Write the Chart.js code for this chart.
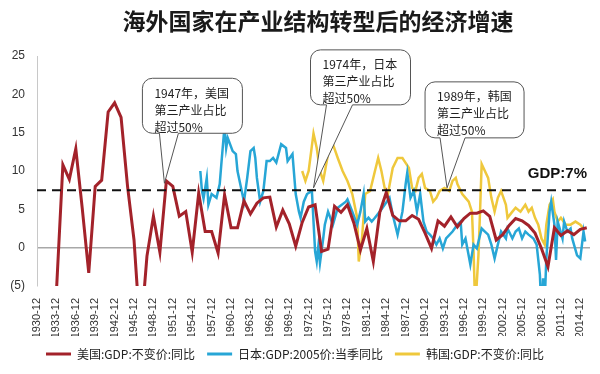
<!DOCTYPE html>
<html>
<head>
<meta charset="utf-8">
<script src="https://cdn.jsdelivr.net/npm/chart.js@4.4.1/dist/chart.umd.min.js"></script>
<style>
  html, body { margin: 0; padding: 0; background: #fff; }
  #wrap { width: 600px; height: 374px; position: relative; }
</style>
</head>
<body>
<div id="wrap"><canvas id="gdp" width="600" height="374"></canvas></div>
<script>
// Title and x tick labels
const chartTitle = "海外国家在产业结构转型后的经济增速";
const xTickLabels = ["1930-12", "1933-12", "1936-12", "1939-12", "1942-12", "1945-12", "1948-12",
  "1951-12", "1954-12", "1957-12", "1960-12", "1963-12", "1966-12", "1969-12", "1972-12",
  "1975-12", "1978-12", "1981-12", "1984-12", "1987-12", "1990-12", "1993-12", "1996-12",
  "1999-12", "2002-12", "2005-12", "2008-12", "2011-12", "2014-12"];
const seriesNames = ["美国:GDP:不变价:同比", "日本:GDP:2005价:当季同比", "韩国:GDP:不变价:同比"];
const refLevel = 7.5;
const refLabel = "GDP:7%";

// USA, annual, 1930 onwards
const usStart = 1930;
const usGrowth = [-8.5, -6.4, -12.9, -5.8, 10.8, 8.9, 12.9, 5.1, -3.3, 8.0,
  8.8, 17.7, 18.9, 17.0, 8.0, 1.0, -11.6, -1.1, 4.1, -0.6,
  8.7, 8.0, 4.1, 4.7, -0.6, 7.1, 2.1, 2.1, -0.7, 6.9,
  2.6, 2.6, 6.1, 4.4, 5.8, 6.5, 6.6, 2.7, 4.9, 3.1,
  0.2, 3.3, 5.3, 5.6, -0.5, -0.2, 5.4, 4.6, 5.6, 3.2,
  -0.3, 2.5, -1.8, 4.6, 7.2, 4.2, 3.5, 3.5, 4.2, 3.7,
  1.9, -0.1, 3.5, 2.8, 4.0, 2.7, 3.8, 4.5, 4.5, 4.8,
  4.1, 1.0, 1.7, 2.9, 3.8, 3.5, 2.9, 1.9, -0.1, -2.5,
  2.6, 1.6, 2.2, 1.7, 2.4, 2.6];

// Japan, quarterly (time in years on the same axis)
const jpTime = [1955.25, 1955.5, 1955.75, 1956.25, 1956.5, 1957.0, 1957.75, 1958.25, 1958.5, 1959.0,
  1959.25, 1959.5, 1960.25, 1960.75, 1961.0, 1961.75, 1962.0, 1962.5, 1963.0, 1963.5,
  1963.75, 1964.0, 1964.5, 1965.0, 1965.5, 1966.0, 1966.5, 1967.0, 1967.75, 1968.5,
  1968.75, 1969.5, 1970.0, 1970.5, 1970.75, 1971.25, 1971.75, 1972.5, 1973.0, 1973.25,
  1973.5, 1973.75, 1974.25, 1974.5, 1975.0, 1975.75, 1976.5, 1977.75, 1978.0, 1978.75,
  1979.5, 1980.0, 1980.5, 1980.75, 1981.25, 1981.75, 1982.25, 1983.0, 1983.75, 1984.5,
  1985.0, 1985.75, 1986.5, 1987.0, 1987.25, 1987.75, 1988.25, 1988.75, 1989.25, 1989.75,
  1990.25, 1990.75, 1991.25, 1991.75, 1992.25, 1992.75, 1993.25, 1994.25, 1995.0, 1995.5,
  1995.75, 1996.25, 1997.0, 1997.5, 1998.0, 1998.75, 1999.25, 1999.75, 2000.25, 2000.75,
  2001.25, 2001.75, 2002.5, 2002.75, 2003.5, 2004.0, 2004.5, 2005.0, 2005.5, 2006.0,
  2006.75, 2007.25, 2007.75, 2008.0, 2008.25, 2008.5, 2008.75, 2009.25, 2009.5, 2010.0,
  2010.25, 2010.5, 2011.25, 2011.5, 2012.0, 2012.5, 2012.75, 2013.5, 2014.0, 2014.5, 2014.75];
const jpGrowth = [10.0, 7.4, 6.4, 9.1, 5.6, 7.0, 6.5, 8.3, 10.9, 15.9,
  13.0, 14.3, 12.6, 12.2, 10.0, 7.0, 6.0, 9.1, 12.6, 13.0,
  11.7, 9.1, 6.0, 7.4, 11.3, 11.3, 11.7, 11.1, 13.5, 13.0,
  11.3, 12.2, 7.0, 4.7, 3.9, 6.0, 7.0, 7.4, -0.5, -1.8,
  0.2, -2.0, 1.2, 3.0, 4.7, 3.0, 5.2, 6.0, 6.3, 4.7,
  3.0, 4.7, 7.0, 3.4, 3.9, 3.4, 3.9, 4.7, 5.6, 6.5,
  4.3, 1.7, 4.7, 8.3, 9.8, 6.5, 7.4, 4.7, 7.0, 3.4,
  2.1, 1.7, 1.2, 0.4, 1.2, -0.1, 1.2, 2.1, 3.0, 3.4,
  0.4, 1.2, -2.2, 0.4, -0.1, 2.5, 2.1, 1.7, 0.4, -1.4,
  0.4, 2.1, 1.2, 2.5, 1.2, 2.1, 2.5, 1.2, 2.1, 1.7,
  1.2, 0.4, -3.5, -8.6, -4.0, -7.0, -1.4, 4.7, 6.0, 3.0,
  -1.6, 3.4, 1.2, 3.4, 2.1, 2.5, 1.2, -1.0, -1.4, 2.1, 0.8];

// Korea, quarterly
const krTime = [1971.0, 1971.5, 1972.0, 1972.75, 1973.25, 1973.75, 1974.25, 1975.0, 1975.75, 1976.5,
  1977.25, 1978.0, 1978.75, 1979.5, 1979.75, 1980.25, 1980.75, 1981.5, 1982.25, 1982.75,
  1983.25, 1983.75, 1984.25, 1985.0, 1985.75, 1986.5, 1987.5, 1988.0, 1988.5, 1989.0,
  1989.5, 1990.0, 1990.75, 1991.25, 1991.75, 1992.25, 1993.0, 1993.75, 1994.25, 1994.75,
  1995.0, 1995.75, 1996.25, 1996.75, 1997.25, 1997.5, 1997.75, 1998.25, 1998.5, 1998.75,
  1999.25, 1999.75, 2000.25, 2000.75, 2001.25, 2001.75, 2002.5, 2002.75, 2003.5, 2004.0,
  2004.75, 2005.5, 2006.0, 2006.5, 2007.0, 2007.5, 2008.0, 2008.5, 2008.75, 2009.25,
  2009.75, 2010.0, 2010.5, 2011.0, 2011.75, 2012.5, 2013.25, 2014.0, 2014.5];
const krGrowth = [10.0, 8.7, 10.0, 14.9, 13.0, 10.0, 8.7, 12.2, 13.5, 11.7,
  10.0, 8.7, 7.0, 3.9, -1.8, 1.2, 7.0, 7.4, 10.0, 11.7,
  10.0, 7.8, 7.0, 10.4, 11.7, 11.7, 10.4, 7.8, 7.4, 9.1,
  9.6, 7.8, 7.4, 6.0, 6.5, 7.4, 7.8, 7.4, 8.7, 9.1,
  8.3, 7.0, 6.5, 6.0, 4.7, -0.5, -8.0, -1.0, 4.7, 10.9,
  10.0, 9.1, 6.5, 4.7, 6.5, 7.4, 5.6, 3.9, 4.7, 5.2,
  4.7, 5.6, 4.7, 5.2, 3.9, 3.0, 1.2, 0.4, 3.0, 5.6,
  6.3, 4.7, 3.4, 3.9, 3.0, 3.0, 3.4, 3.0, 2.5];

const xMin = 1930;
const xMax = 2015.5;

// callout boxes: tip sits on the data, box is offset from the tip in px
const callouts = [
  { lines: ["1947年，美国", "第三产业占比", "超过50%"], tip: { x: 1949.7, y: 8.4 },
    box: { dx: -22, dy: -105, w: 100, h: 55 }, base: [-5, 14] },
  { lines: ["1974年，日本", "第三产业占比", "超过50%"], tip: { x: 1972.75, y: 7.8 },
    box: { dx: -3, dy: -138, w: 100, h: 55 }, base: [13, 39] },
  { lines: ["1989年，韩国", "第三产业占比", "超过50%"], tip: { x: 1993.4, y: 7.8 },
    box: { dx: -22, dy: -106, w: 99, h: 56 }, base: [-7, 18] }
];

const CJK = "'Noto Sans CJK SC', 'Liberation Sans', sans-serif";

function pairs(xs, ys) {
  return ys.map((v, i) => ({ x: xs[i], y: v }));
}

function bubble(ctx, x, y, w, h, r, b1, b2, tx, ty) {
  ctx.beginPath();
  ctx.moveTo(x + r, y);
  ctx.lineTo(x + w - r, y);
  ctx.arcTo(x + w, y, x + w, y + r, r);
  ctx.lineTo(x + w, y + h - r);
  ctx.arcTo(x + w, y + h, x + w - r, y + h, r);
  ctx.lineTo(b2, y + h);
  ctx.lineTo(tx, ty);
  ctx.lineTo(b1, y + h);
  ctx.lineTo(x + r, y + h);
  ctx.arcTo(x, y + h, x, y + h - r, r);
  ctx.lineTo(x, y + r);
  ctx.arcTo(x, y, x + r, y, r);
  ctx.closePath();
  ctx.fill();
  ctx.stroke();
}

const extras = {
  id: "extras",
  afterDraw(chart) {
    const ctx = chart.ctx;
    const xs = chart.scales.x, ys = chart.scales.y;
    const area = chart.chartArea;
    ctx.save();

    // title
    ctx.fillStyle = "#1a1a1a";
    ctx.font = "bold 23px " + CJK;
    ctx.textAlign = "center";
    ctx.textBaseline = "middle";
    ctx.fillText(chartTitle, 318, 21);

    // reference label
    ctx.font = "bold 15px 'Liberation Sans', Arial, sans-serif";
    ctx.textAlign = "right";
    ctx.textBaseline = "alphabetic";
    ctx.fillStyle = "#111";
    ctx.fillText(refLabel, area.right - 3, ys.getPixelForValue(refLevel) - 12);

    // callouts
    callouts.forEach(c => {
      const tx = xs.getPixelForValue(c.tip.x);
      const ty = ys.getPixelForValue(c.tip.y);
      const bx = tx + c.box.dx, by = ty + c.box.dy;
      ctx.fillStyle = "#fff";
      ctx.strokeStyle = "#555";
      ctx.lineWidth = 1;
      bubble(ctx, bx, by, c.box.w, c.box.h, 10, tx + c.base[0], tx + c.base[1], tx, ty);
      ctx.fillStyle = "#222";
      ctx.font = "12px " + CJK;
      ctx.textAlign = "left";
      ctx.textBaseline = "middle";
      c.lines.forEach((t, i) => ctx.fillText(t, bx + 12, by + 15 + i * 17));
    });
    ctx.restore();
  }
};

new Chart(document.getElementById("gdp"), {
  type: "line",
  data: {
    datasets: [
      {
        label: "ref",
        data: [{ x: xMin, y: refLevel }, { x: xMax - 0.4, y: refLevel }],
        borderColor: "#111",
        borderWidth: 2,
        borderDash: [9, 6],
        order: 0
      },
      {
        label: seriesNames[0],
        data: pairs(usGrowth.map((_, i) => usStart + i), usGrowth),
        borderColor: "#a3222a",
        backgroundColor: "#a3222a",
        borderWidth: 3,
        order: 1
      },
      {
        label: seriesNames[1],
        data: pairs(jpTime, jpGrowth),
        borderColor: "#27a6d6",
        backgroundColor: "#27a6d6",
        borderWidth: 2.5,
        order: 2
      },
      {
        label: seriesNames[2],
        data: pairs(krTime, krGrowth),
        borderColor: "#efc83c",
        backgroundColor: "#efc83c",
        borderWidth: 2.5,
        order: 3
      }
    ]
  },
  options: {
    responsive: false,
    animation: false,
    events: [],
    layout: { padding: { top: 56, right: 10, bottom: 4, left: 0 } },
    elements: { point: { radius: 0 }, line: { tension: 0 } },
    plugins: {
      title: { display: false },
      tooltip: { enabled: false },
      legend: {
        position: "bottom",
        labels: {
          filter: item => item.text !== "ref",
          generateLabels: chart => {
            const items = Chart.defaults.plugins.legend.labels.generateLabels(chart);
            items.forEach(it => { it.lineWidth = 0; });
            return items;
          },
          boxWidth: 25,
          boxHeight: 3,
          padding: 12,
          color: "#222",
          font: { size: 12, family: CJK }
        }
      }
    },
    scales: {
      x: {
        type: "linear",
        min: xMin,
        max: xMax,
        afterBuildTicks: s => {
          s.ticks = xTickLabels.map(l => ({ value: parseInt(l, 10) }));
        },
        afterFit: s => { s.height = 50; },
        grid: { display: false },
        border: { display: false },
        ticks: {
          autoSkip: false,
          maxRotation: 90,
          minRotation: 90,
          padding: 4,
          color: "#333",
          font: { size: 11, family: "'Liberation Sans', Arial, sans-serif" },
          callback: v => xTickLabels.find(l => parseInt(l, 10) === v) || ""
        }
      },
      y: {
        min: -5,
        max: 25,
        afterFit: s => { s.width = 37; },
        ticks: {
          stepSize: 5,
          padding: 12,
          color: "#333",
          font: { size: 12, family: "'Liberation Sans', Arial, sans-serif" },
          callback: v => v < 0 ? "(" + (-v) + ")" : String(v)
        },
        grid: {
          drawTicks: false,
          color: c => c.tick && c.tick.value === 0 ? "#a8a8a8" : "transparent",
          lineWidth: 1.5
        },
        border: { display: true, color: "#c8c8c8", width: 1 }
      }
    }
  },
  plugins: [extras]
});
</script>
</body>
</html>
